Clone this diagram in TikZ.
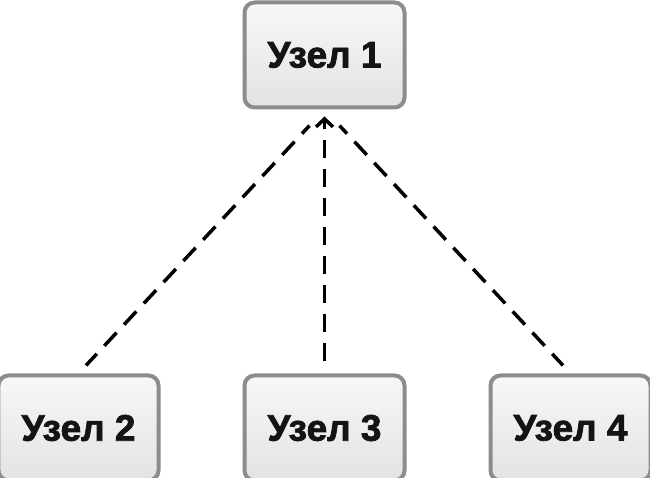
\documentclass[tikz,border=0pt]{standalone}
\usepackage{fontspec}
\setmainfont{Liberation Sans}[FakeBold=2]
\usetikzlibrary{positioning,arrows.meta}

\begin{document}
\begin{tikzpicture}[x=1pt,y=1pt,node distance=82pt,
  box/.style={draw=black!45, line width=4pt, rounded corners=10pt,
    top color=black!3, bottom color=black!11, text=black!92,
    minimum width=160pt, minimum height=105pt,
    font=\fontsize{37}{40}\selectfont\bfseries},
  link/.style={line width=3.5pt, dash pattern=on 18pt off 11pt}]
\useasboundingbox (0,0) rectangle (650,478);
% nodes
\node [box] (1) at (324.5,423) {Узел 1};
\node [box, below=264pt of 1] (3) {Узел 3};
\node [box, left=of 3] (2) {Узел 2};
\node [box, right=of 3] (4) {Узел 4};
% arrows
\draw [link, shorten <=22pt, shorten >=11pt, dash phase=7pt] (1.south) -- (2.north);
\draw [link, shorten <=22pt, shorten >=11pt, dash phase=7pt] (1.south) -- (4.north);
\draw [link, -{Straight Barb[length=8pt,width=17pt]}, shorten <=12pt, shorten >=7pt] (3.north) -- (1.south);
\end{tikzpicture}
\end{document}
